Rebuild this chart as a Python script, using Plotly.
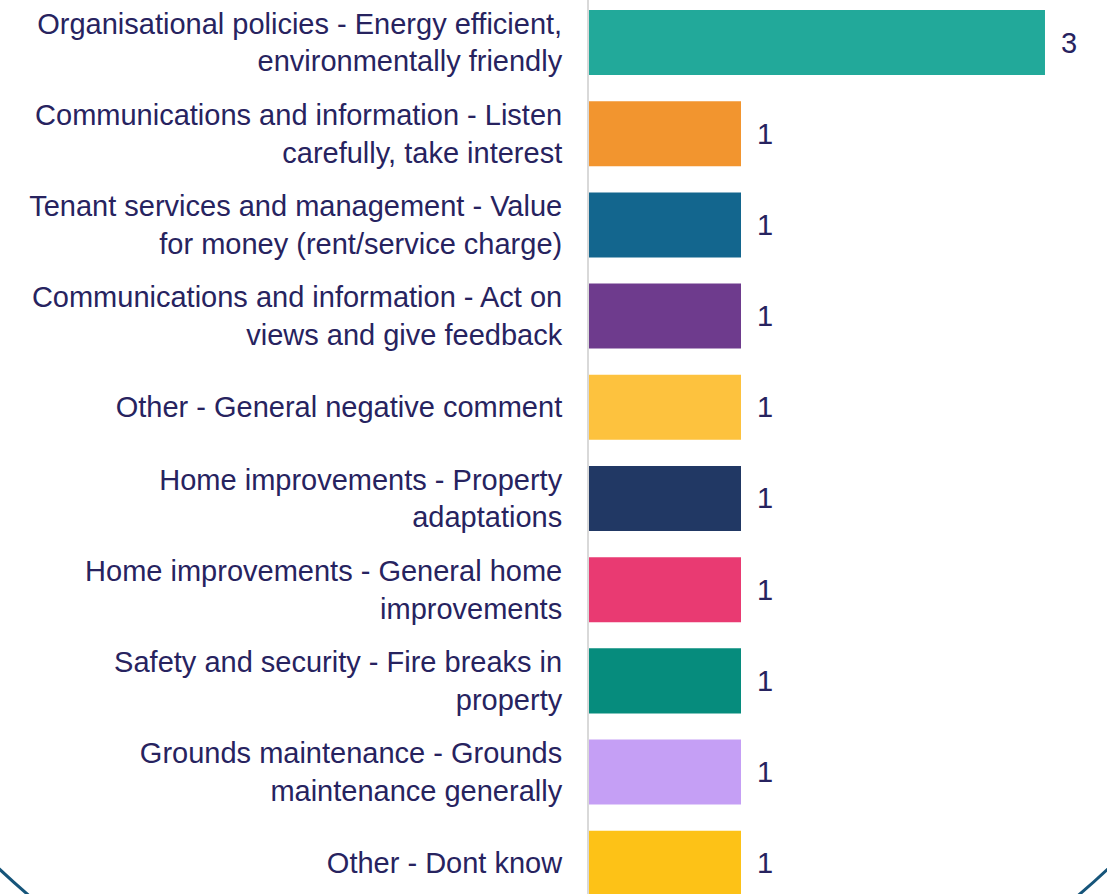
import plotly.graph_objects as go

categories = [
    "Organisational policies - Energy efficient,<br>environmentally friendly",
    "Communications and information - Listen<br>carefully, take interest",
    "Tenant services and management - Value<br>for money (rent/service charge)",
    "Communications and information - Act on<br>views and give feedback",
    "Other - General negative comment",
    "Home improvements - Property<br>adaptations",
    "Home improvements - General home<br>improvements",
    "Safety and security - Fire breaks in<br>property",
    "Grounds maintenance - Grounds<br>maintenance generally",
    "Other - Dont know",
]
values = [3, 1, 1, 1, 1, 1, 1, 1, 1, 1]
colors = ["#22a99a", "#f2952f", "#13668e", "#6e3b8d", "#fdc23e",
          "#213864", "#e93a72", "#068c7d", "#c59ff5", "#fdc217"]

TEXT = "#27235f"
FONT = "Liberation Sans, Arial, sans-serif"

fig = go.Figure()
fig.add_trace(go.Bar(
    x=values, y=categories, orientation="h",
    marker=dict(color=colors, line=dict(width=0)),
    hoverinfo="skip",
))

for c, v in zip(categories, values):
    fig.add_annotation(x=v, y=c, text=str(v), showarrow=False,
                       xanchor="left", xshift=14,
                       font=dict(family=FONT, size=29, color=TEXT))

# decorative round frame (only its lower corners are visible)
fig.add_shape(type="circle", xref="paper", yref="paper",
              x0=-1.617, x1=1.480, y0=-0.216, y1=1.545,
              line=dict(color="#16557a", width=3), layer="above")

fig.update_layout(
    width=1107, height=894,
    margin=dict(l=589, r=0, t=0, b=0),
    paper_bgcolor="white", plot_bgcolor="white",
    bargap=0.287,
    showlegend=False,
    xaxis=dict(range=[0, 3.408], visible=False, fixedrange=True),
    yaxis=dict(
        type="category",
        categoryorder="array", categoryarray=categories,
        range=[9.337, -0.466],
        showline=True, linecolor="#d9d9d9", linewidth=2,
        ticks="", showgrid=False, zeroline=False,
        ticklabelstandoff=19,
        tickfont=dict(family=FONT, size=29, color=TEXT),
        automargin=False,
    ),
)

fig.write_html("out.html", config={"displayModeBar": False},
               post_script="document.body.style.margin='0';")
